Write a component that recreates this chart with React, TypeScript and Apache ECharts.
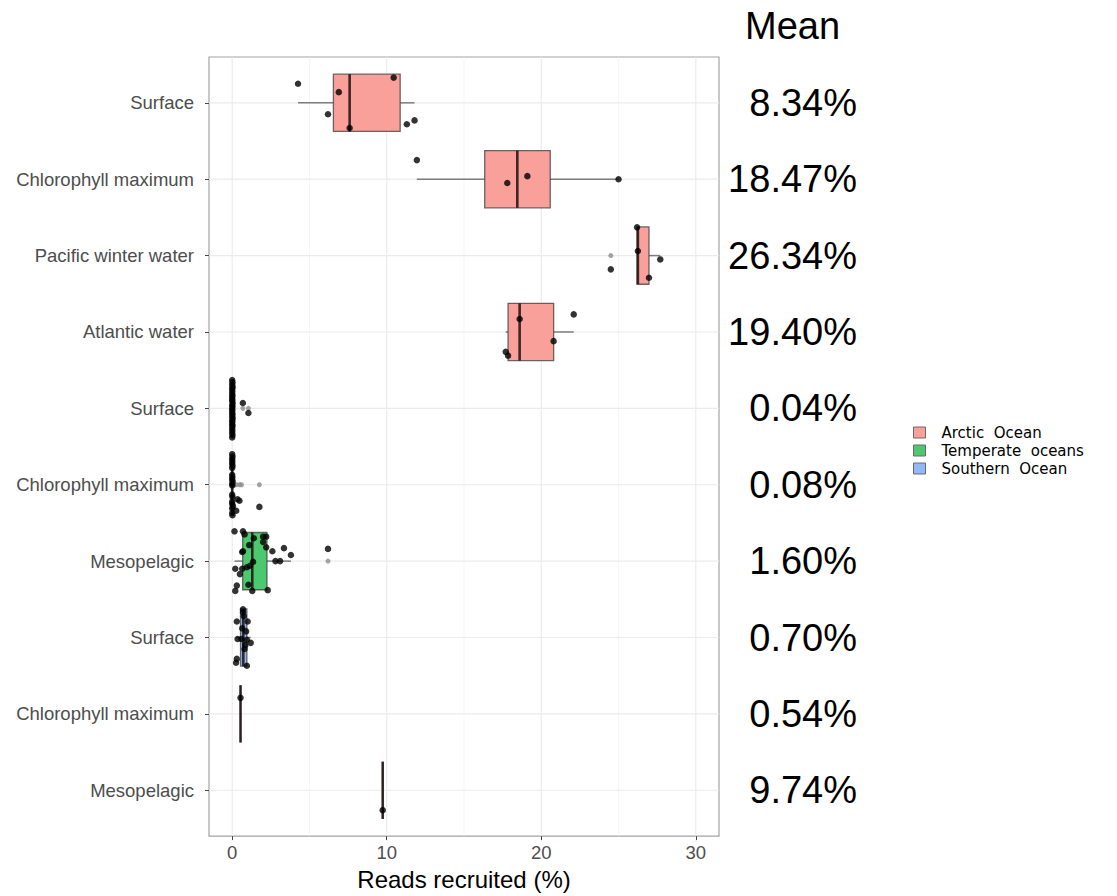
import React, { useEffect, useRef } from 'react';
import * as echarts from 'echarts';

// ---------- data ----------
const rowPositions = [1, 2, 3, 4, 5, 6, 7, 8, 9, 10];
const rowLabels = [
  'Surface', 'Chlorophyll maximum', 'Pacific winter water', 'Atlantic water',
  'Surface', 'Chlorophyll maximum', 'Mesopelagic',
  'Surface', 'Chlorophyll maximum', 'Mesopelagic',
];
const meanLabels = ['8.34%', '18.47%', '26.34%', '19.40%', '0.04%', '0.08%', '1.60%', '0.70%', '0.54%', '9.74%'];
const groupNames = ['Arctic  Ocean', 'Temperate  oceans', 'Southern  Ocean'];
const xTicks = [0, 10, 20, 30];
const xMinorTicks = [5, 15, 25];

// box stats: [row, lowWhisker, q1, median, q3, highWhisker]
const arcticBoxes = [
  [1, 4.26, 6.55, 7.6, 10.87, 11.8],
  [2, 11.95, 16.34, 18.45, 20.58, 25.0],
  [3, 26.2, 26.2, 26.25, 26.97, 27.7],
  [4, 17.7, 17.85, 18.6, 20.8, 22.1],
];
const temperateBoxes = [
  [5, 0, 0, 0, 0.02, 0.05],
  [6, 0, 0, 0, 0.02, 0.05],
  [7, 0.15, 0.68, 1.3, 2.25, 3.8],
];
const southernBoxes = [
  [8, 0.25, 0.54, 0.72, 0.95, 1.2],
  [9, 0.54, 0.54, 0.54, 0.54, 0.54],
  [10, 9.74, 9.74, 9.74, 9.74, 9.74],
];
// outliers: [row, value]
const outliers = [
  [3, 24.5],
  [5, 0.69], [5, 1.05],
  [6, 0.26], [6, 0.47], [6, 0.6], [6, 1.76],
  [7, 6.2],
];
// jittered points: [value, vertical jitter in row units]
const ptsArcticSurface = [[4.26, -0.25], [6.9, -0.14], [6.2, 0.15], [7.6, 0.33], [10.45, -0.33], [11.3, 0.28], [11.8, 0.23]];
const ptsArcticChl = [[11.95, -0.25], [17.8, 0.05], [19.1, -0.04], [25.0, 0.0]];
const ptsPacific = [[26.2, -0.37], [26.25, -0.06], [26.97, 0.29], [27.7, 0.05], [24.5, 0.18]];
const ptsAtlantic = [[18.6, -0.17], [20.8, 0.12], [22.1, -0.23], [17.7, 0.26], [17.85, 0.31]];
const ptsTempSurface = [
  [0, -0.37], [0.02, -0.34], [0, -0.31], [0.03, -0.28], [0, -0.26], [0.01, -0.23], [0, -0.2], [0.02, -0.17],
  [0, -0.15], [0.01, -0.12], [0, -0.1], [0.03, -0.07], [0, -0.04], [0.02, -0.02], [0, 0.01], [0.01, 0.03],
  [0, 0.06], [0.02, 0.08], [0, 0.11], [0.03, 0.13], [0, 0.16], [0.01, 0.18], [0, 0.21], [0.02, 0.23],
  [0, 0.26], [0.01, 0.29], [0, 0.32], [0.02, 0.35], [0, 0.38], [0.69, -0.07], [1.05, 0.06],
];
const ptsTempChl = [
  [0, -0.4], [0.02, -0.37], [0, -0.34], [0.01, -0.31], [0, -0.28], [0.02, -0.25], [0, -0.22],
  [0, -0.13], [0.01, -0.1], [0, -0.07], [0.03, -0.04], [0, -0.01], [0.01, 0.01],
  [0, 0.13], [0.02, 0.16], [0.35, 0.19], [0, 0.22], [0.47, 0.21], [0, 0.25], [0.05, 0.28],
  [1.76, 0.29], [0, 0.31], [0.26, 0.34], [0, 0.37], [0.02, 0.4],
];
const ptsTempMeso = [
  [0.15, -0.39], [0.7, -0.39], [0.8, -0.35], [1.4, -0.3], [2.0, -0.32], [2.2, -0.32], [2.0, -0.25],
  [2.2, -0.18], [1.1, -0.21], [0.65, -0.12], [0.7, -0.13], [2.6, -0.13], [3.35, -0.17], [3.8, -0.08],
  [2.8, 0.0], [3.1, 0.0], [1.35, 0.01], [1.15, 0.06], [0.95, 0.08], [0.2, 0.1], [0.65, 0.1],
  [0.5, 0.17], [1.05, 0.31], [0.3, 0.32], [0.2, 0.39], [1.3, 0.39], [2.3, 0.38], [6.2, -0.16],
];
const ptsSouthSurface = [
  [0.7, -0.37], [0.7, -0.33], [0.3, -0.21], [1.0, -0.21], [0.9, -0.08], [0.35, 0.02], [0.6, 0.02],
  [0.95, 0.03], [1.2, 0.07], [0.8, 0.15], [0.3, 0.28], [0.25, 0.33], [0.95, 0.37], [0.75, -0.28],
  [0.85, 0.1], [0.65, -0.12],
];
const ptsSouthChl = [[0.54, -0.21]];
const ptsSouthMeso = [[9.74, 0.26]];

const pointRows = [
  [1, ptsArcticSurface], [2, ptsArcticChl], [3, ptsPacific], [4, ptsAtlantic],
  [5, ptsTempSurface], [6, ptsTempChl], [7, ptsTempMeso],
  [8, ptsSouthSurface], [9, ptsSouthChl], [10, ptsSouthMeso],
] as [number, number[][]][];

// ---------- styles ----------
const FONT = "'Liberation Sans', Arial, Helvetica, sans-serif";
const LEGEND_FONT = "'DejaVu Sans', 'Liberation Sans', sans-serif";
const fills = ['#F9A09A', '#4CC96E', '#93B9F5'];
const X_MIN = -1.5;
const X_MAX = 31.5;
const Y_MIN = 0.4;
const Y_MAX = 10.6;
const HALF = 0.375;

function boxRenderer(fill: string) {
  return (params: any, api: any) => {
    const row = api.value(0);
    const lo = api.value(1), q1 = api.value(2), med = api.value(3), q3 = api.value(4), hi = api.value(5);
    const pLo = api.coord([lo, row]);
    const pQ1 = api.coord([q1, row]);
    const pMed = api.coord([med, row]);
    const pQ3 = api.coord([q3, row]);
    const pHi = api.coord([hi, row]);
    const yTop = api.coord([q1, row - HALF])[1];
    const yBot = api.coord([q1, row + HALF])[1];
    const whisker = { stroke: '#7d7d7d', lineWidth: 1.5 };
    return {
      type: 'group',
      children: [
        { type: 'line', shape: { x1: pLo[0], y1: pLo[1], x2: pQ1[0], y2: pQ1[1] }, style: whisker },
        { type: 'line', shape: { x1: pQ3[0], y1: pQ3[1], x2: pHi[0], y2: pHi[1] }, style: whisker },
        {
          type: 'rect',
          shape: { x: pQ1[0], y: Math.min(yTop, yBot), width: pQ3[0] - pQ1[0], height: Math.abs(yBot - yTop) },
          style: { fill, stroke: 'rgba(60,60,60,0.75)', lineWidth: 1.3 },
        },
        {
          type: 'line',
          shape: { x1: pMed[0], y1: yTop, x2: pMed[0], y2: yBot },
          style: { stroke: 'rgba(35,20,20,0.88)', lineWidth: 2.6 },
        },
      ],
    };
  };
}

export default function App() {
  const ref = useRef<HTMLDivElement>(null);
  useEffect(() => {
    if (!ref.current) return;
    const chart = echarts.init(ref.current, null, { renderer: 'svg' });

    const points: number[][] = [];
    pointRows.forEach(([row, pts]) => pts.forEach(([v, dy]) => points.push([v, row + dy])));

    const boxSets = [arcticBoxes, temperateBoxes, southernBoxes];

    const option: any = {
      animation: false,
      backgroundColor: '#ffffff',
      textStyle: { fontFamily: FONT },
      title: {
        text: 'Mean',
        left: 745,
        top: 7,
        padding: 0,
        textStyle: { fontSize: 38, fontWeight: 'normal', color: '#000', fontFamily: FONT },
      },
      legend: {
        orient: 'vertical',
        left: 913,
        top: 425,
        padding: 0,
        itemWidth: 12,
        itemHeight: 11,
        itemGap: 3,
        icon: 'rect',
        selectedMode: false,
        textStyle: { fontSize: 15, color: '#000', fontFamily: LEGEND_FONT, padding: [0, 0, 0, 11] },
        data: groupNames.map((n, i) => ({
          name: n,
          itemStyle: { color: fills[i], borderColor: '#6a6a6a', borderWidth: 1 },
        })),
      },
      grid: {
        left: 209,
        right: 1117 - 719,
        top: 57,
        bottom: 896 - 842,
        show: true,
        borderColor: '#a3a3a3',
        borderWidth: 1.2,
        backgroundColor: 'transparent',
        containLabel: false,
      },
      xAxis: {
        type: 'value',
        min: X_MIN,
        max: X_MAX,
        splitLine: { show: false },
        axisLine: { show: false, onZero: false },
        axisTick: { show: true, customValues: xTicks, length: 4, lineStyle: { color: '#444', width: 1 } },
        axisLabel: { customValues: xTicks, fontSize: 18.5, color: '#4d4d4d', margin: 7, fontFamily: FONT },
        name: 'Reads recruited (%)',
        nameLocation: 'middle',
        nameGap: 20,
        nameTextStyle: { fontSize: 24, color: '#000', fontFamily: FONT },
      },
      yAxis: [
        {
          type: 'value',
          min: Y_MIN,
          max: Y_MAX,
          inverse: true,
          position: 'left',
          splitLine: { show: false },
          axisLine: { show: false, onZero: false },
          axisTick: { show: true, customValues: rowPositions, length: 4, lineStyle: { color: '#444', width: 1 } },
          axisLabel: {
            customValues: rowPositions,
            formatter: (v: number) => rowLabels[Math.round(v) - 1] ?? '',
            fontSize: 18.5,
            color: '#4d4d4d',
            margin: 15,
            fontFamily: FONT,
          },
        },
        {
          type: 'value',
          min: Y_MIN,
          max: Y_MAX,
          inverse: true,
          position: 'right',
          splitLine: { show: false },
          axisLine: { show: false, onZero: false },
          axisTick: { show: false },
          axisLabel: {
            customValues: rowPositions,
            formatter: (v: number) => meanLabels[Math.round(v) - 1] ?? '',
            fontSize: 38,
            color: '#000',
            align: 'right',
            margin: 138,
            fontFamily: FONT,
          },
        },
      ],
      series: [
        {
          type: 'custom',
          silent: true,
          z: 0,
          data: xMinorTicks.map((v) => [v]),
          renderItem: (p: any, api: any) => {
            const a = api.coord([api.value(0), Y_MIN]);
            const b = api.coord([api.value(0), Y_MAX]);
            return { type: 'line', shape: { x1: a[0], y1: a[1], x2: b[0], y2: b[1] }, style: { stroke: '#f3f3f3', lineWidth: 0.8 } };
          },
          encode: { x: 0 },
        },
        {
          type: 'custom',
          silent: true,
          z: 0,
          data: xTicks.map((v) => [v]),
          renderItem: (p: any, api: any) => {
            const a = api.coord([api.value(0), Y_MIN]);
            const b = api.coord([api.value(0), Y_MAX]);
            return { type: 'line', shape: { x1: a[0], y1: a[1], x2: b[0], y2: b[1] }, style: { stroke: '#ebebeb', lineWidth: 1.2 } };
          },
          encode: { x: 0 },
        },
        {
          type: 'custom',
          silent: true,
          z: 0,
          data: rowPositions.map((r) => [r]),
          renderItem: (p: any, api: any) => {
            const a = api.coord([X_MIN, api.value(0)]);
            const b = api.coord([X_MAX, api.value(0)]);
            return { type: 'line', shape: { x1: a[0], y1: a[1], x2: b[0], y2: b[1] }, style: { stroke: '#ebebeb', lineWidth: 1.2 } };
          },
          encode: { y: 0 },
        },
        ...boxSets.map((set, i) => ({
          type: 'custom',
          name: groupNames[i],
          z: 2,
          itemStyle: { color: fills[i] },
          data: set,
          encode: { x: [1, 2, 3, 4, 5], y: 0 },
          renderItem: boxRenderer(fills[i]),
        })),
        {
          type: 'scatter',
          z: 3,
          symbolSize: 5,
          itemStyle: { color: '#8c8c8c' },
          data: outliers.map(([r, v]) => [v, r]),
        },
        {
          type: 'scatter',
          z: 4,
          symbolSize: 6.5,
          itemStyle: { color: '#000' },
          data: points,
        },
      ],
    };
    chart.setOption(option);
    return () => chart.dispose();
  }, []);

  return (
    <div
      ref={ref}
      style={{ position: 'absolute', left: 0, top: 0, width: 1117, height: 896, background: '#fff' }}
    />
  );
}
